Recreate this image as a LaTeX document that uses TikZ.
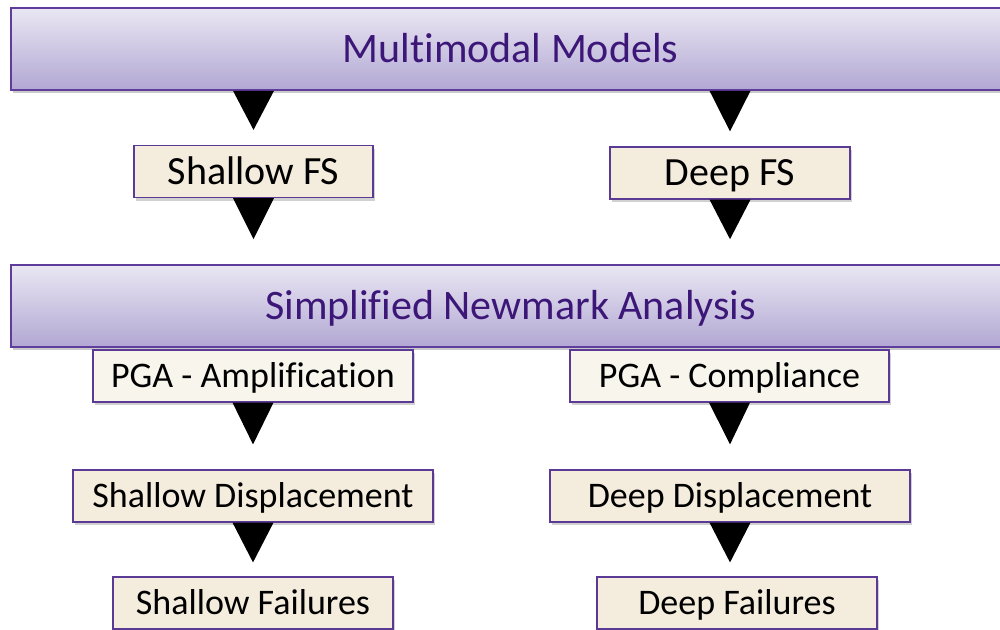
\documentclass[tikz,border=0pt]{standalone}
\usepackage{fontspec}
\setmainfont[Ligatures=NoCommon]{Carlito}
\usetikzlibrary{calc,shadows}
\definecolor{bannerTop}{HTML}{E9E7F3}
\definecolor{bannerBot}{HTML}{B2A7D3}
\definecolor{bannerLine}{HTML}{5E3D9C}
\definecolor{bannerText}{HTML}{3C1778}
\definecolor{boxFill}{HTML}{F4ECDC}
\definecolor{boxFillLight}{HTML}{F8F5EC}
\definecolor{boxLine}{HTML}{5A3A95}
\tikzset{
  banner/.style={draw=bannerLine, line width=1.6pt, top color=bannerTop, bottom color=bannerBot,
    minimum width=999pt, minimum height=82pt, inner sep=0pt, text=bannerText,
    font=\fontsize{42}{50}\selectfont, text height=33pt, text depth=6pt,
    drop shadow={shadow xshift=2pt, shadow yshift=-3pt, opacity=0.35, fill=black!60}},
  stepbox/.style={draw=boxLine, line width=1.2pt, fill=boxFill, minimum height=52pt,
    inner sep=0pt, text=black, font=\fontsize{36}{43}\selectfont,
    text height=29.2pt, text depth=6pt,
    drop shadow={shadow xshift=2pt, shadow yshift=-3pt, opacity=0.3, fill=black!60}},
  bigbox/.style={stepbox, font=\fontsize{40}{48}\selectfont, text height=31.8pt, text depth=6pt},
  lightbox/.style={stepbox, fill=boxFillLight},
  tri/.style={fill=black}
}
\begin{document}
\begin{tikzpicture}[x=1pt,y=-1pt]
\useasboundingbox (0,0) rectangle (1000,629);
\begin{scope}
\clip (0,0) rectangle (1000,629);
\node[banner] (mm) at (510.5,49) {Multimodal Models};
\node[bigbox, minimum width=239pt] (sfs) at (253.5,171.5) {Shallow FS};
\node[bigbox, minimum width=240pt] (dfs) at (730,173) {Deep FS};
\node[banner] (sna) at (510.5,306) {Simplified Newmark Analysis};
\node[lightbox, minimum width=320pt] (pa) at (253,376) {PGA - Amplification};
\node[lightbox, minimum width=319pt] (pc) at (729.5,376) {PGA - Compliance};
\node[stepbox, minimum width=360pt] (sd) at (253,496) {Shallow Displacement};
\node[stepbox, minimum width=360pt] (dd) at (730,496) {Deep Displacement};
\node[stepbox, minimum width=280pt] (sf) at (253,603) {Shallow Failures};
\node[stepbox, minimum width=280pt] (df) at (737,603) {Deep Failures};
\fill[tri] ($(mm.south -| sfs.north)+(-20.5,0)$) -- ($(mm.south -| sfs.north)+(20.5,0)$) -- ($(sfs.north)+(0,-15)$) -- cycle;
\fill[tri] ($(mm.south -| dfs.north)+(-20.5,0)$) -- ($(mm.south -| dfs.north)+(20.5,0)$) -- ($(dfs.north)+(0,-15)$) -- cycle;
\fill[tri] ($(sfs.south)+(-20.5,0)$) -- ($(sfs.south)+(20.5,0)$) -- ($(sna.north -| sfs.south)+(0,-25)$) -- cycle;
\fill[tri] ($(dfs.south)+(-20.5,0)$) -- ($(dfs.south)+(20.5,0)$) -- ($(sna.north -| dfs.south)+(0,-25)$) -- cycle;
\fill[tri] ($(pa.south)+(-20.5,0)$) -- ($(pa.south)+(20.5,0)$) -- ($(sd.north)+(0,-25)$) -- cycle;
\fill[tri] ($(pc.south)+(-20.5,0)$) -- ($(pc.south)+(20.5,0)$) -- ($(dd.north)+(0,-25)$) -- cycle;
\fill[tri] ($(sd.south)+(-20.5,0)$) -- ($(sd.south)+(20.5,0)$) -- ($(sf.north -| sd.south)+(0,-14)$) -- cycle;
\fill[tri] ($(dd.south)+(-20.5,0)$) -- ($(dd.south)+(20.5,0)$) -- ($(df.north -| dd.south)+(0,-14)$) -- cycle;
\end{scope}
\end{tikzpicture}
\end{document}
